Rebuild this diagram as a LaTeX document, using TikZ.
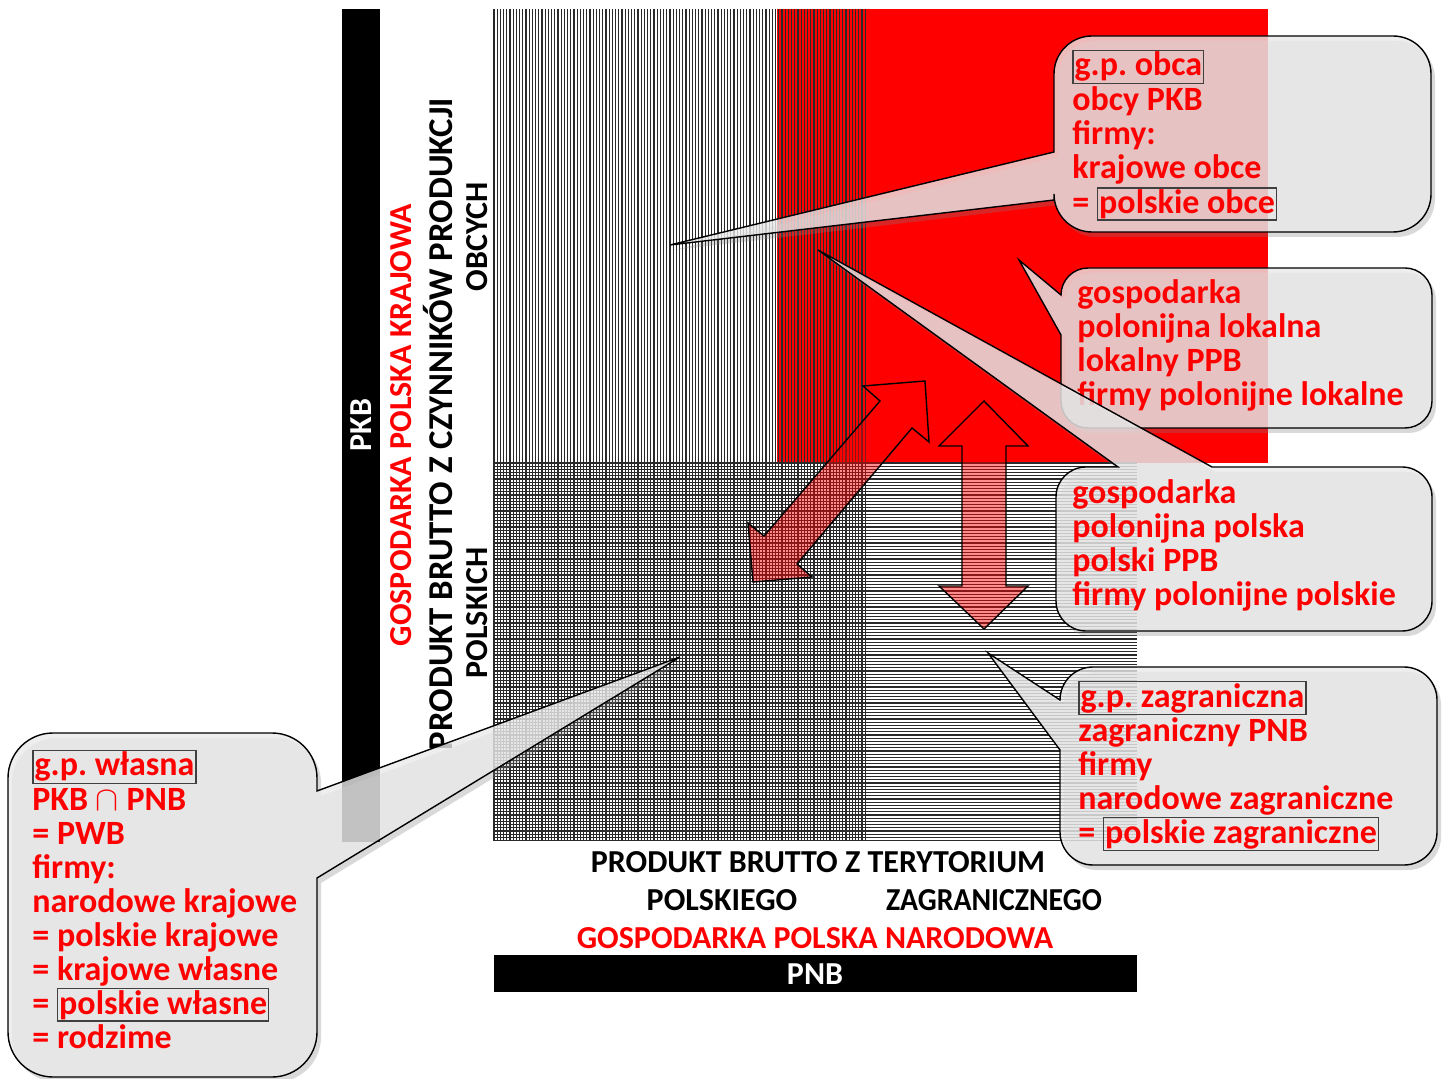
\documentclass[tikz,border=0pt]{standalone}
\usepackage{fontspec}
\setmainfont{Carlito}
\usetikzlibrary{shadows}
\frenchspacing
\definecolor{callgray}{HTML}{EAEAEA}
\definecolor{hatchc}{HTML}{2A2A2A}
\definecolor{framec}{HTML}{404040}
\newcommand{\framedword}[1]{{\color{framec}\setlength{\fboxsep}{0.4pt}\setlength{\fboxrule}{0.7pt}\smash{\fbox{\color{red}#1}}}}
\tikzset{
  hatch/.style={draw=hatchc, line width=0.55pt},
  callout/.style={draw=black, line width=0.7pt, fill=callgray, fill opacity=0.8,
    drop shadow={shadow xshift=2pt, shadow yshift=-2.5pt, opacity=0.3}},
  ctext/.style={font=\bfseries\fontsize{17}{17}\selectfont, text=red, anchor=base west, inner sep=0pt},
  axistext/.style={font=\bfseries\fontsize{16}{18}\selectfont, inner sep=0pt},
  bigarrow/.style={draw=black, line width=0.7pt, fill=red, fill opacity=0.45},
}
\begin{document}
\begin{tikzpicture}[x=0.5pt,y=-0.5pt]
\useasboundingbox (0,0) rectangle (1446,1079);
% red area
\fill[red] (777,9) rectangle (1268,463);
% hatching
\foreach \x in {494,497.2,...,868} \draw[hatch] (\x,9) -- (\x,841);
\foreach \y in {463,466.2,...,841} \draw[hatch] (494,\y) -- (1137,\y);
% bars
\fill[black] (342,9) rectangle (380,842);
\fill[black] (494,955) rectangle (1137,992);
% axis texts
\node[axistext, rotate=90, text=white] (pkb) at (361,425) {PKB};
\node[axistext, rotate=90, text=red] (gpk) at (401,425) {GOSPODARKA POLSKA KRAJOWA};
\node[axistext, rotate=90, font=\bfseries\fontsize{17.4}{19}\selectfont] (pbc) at (438,424) {PRODUKT BRUTTO Z CZYNNIKÓW PRODUKCJI};
\node[axistext, rotate=90] (obc) at (477,237) {OBCYCH};
\node[axistext, rotate=90] (pol) at (477,613) {POLSKICH};
\node[axistext] (pbt) at (818,862) {PRODUKT BRUTTO Z TERYTORIUM};
\node[axistext] (pgo) at (722,900) {POLSKIEGO};
\node[axistext, xscale=0.93] (zag) at (994,900) {ZAGRANICZNEGO};
\node[axistext, text=red] (gpn) at (815,938) {GOSPODARKA POLSKA NARODOWA};
\node[axistext, text=white] (pnb) at (815,974) {PNB};
% big arrows
\draw[bigarrow] (925,381) -- (929,442) -- (912,428) -- (797,564) -- (812,577) -- (753,582) -- (748,523) -- (764,536) -- (880,401) -- (863,386) -- cycle;
\draw[bigarrow] (984,401) -- (1028,446) -- (1006,446) -- (1006,586) -- (1028,586) -- (984,629) -- (939,586) -- (962,586) -- (962,446) -- (939,446) -- cycle;
% callout 1
\path[callout] (1092,36) -- (1393,36) arc[start angle=270,end angle=360,radius=38] -- (1431,194) arc[start angle=0,end angle=90,radius=38] -- (1092,232) arc[start angle=90,end angle=180,radius=38] -- (1054,200) -- (670,245) -- (1054,152) -- (1054,74) arc[start angle=180,end angle=270,radius=38] -- cycle;
\foreach \t [count=\i from 0] in {{\framedword{g.p. obca}},obcy PKB,firmy:,krajowe obce,{= \framedword{polskie obce}}}
  \node[ctext] (ca\i) at (1072,76+34.3*\i) {\t};
% callout 2
\path[callout] (1088,268) -- (1405,268) arc[start angle=270,end angle=360,radius=27] -- (1432,401) arc[start angle=0,end angle=90,radius=27] -- (1088,428) arc[start angle=90,end angle=180,radius=27] -- (1061,335) -- (1019,260) -- (1061,295) arc[start angle=180,end angle=270,radius=27] -- cycle;
\foreach \t [count=\i from 0] in {gospodarka,polonijna lokalna,lokalny PPB,firmy polonijne lokalne}
  \node[ctext] (cb\i) at (1077,304+33.7*\i) {\t};
% callout 3
\path[callout] (1086,467) -- (1118,467) -- (818,250) -- (1212,467) -- (1402,467) arc[start angle=270,end angle=360,radius=30] -- (1432,601) arc[start angle=0,end angle=90,radius=30] -- (1086,631) arc[start angle=90,end angle=180,radius=30] -- (1056,497) arc[start angle=180,end angle=270,radius=30] -- cycle;
\foreach \t [count=\i from 0] in {gospodarka,polonijna polska,polski PPB,firmy polonijne polskie}
  \node[ctext] (cc\i) at (1072,504+33.7*\i) {\t};
% callout 4
\path[callout] (1093,667) -- (1404,667) arc[start angle=270,end angle=360,radius=33] -- (1437,832) arc[start angle=0,end angle=90,radius=33] -- (1093,865) arc[start angle=90,end angle=180,radius=33] -- (1060,750) -- (988,653) -- (1060,700) arc[start angle=180,end angle=270,radius=33] -- cycle;
\foreach \t [count=\i from 0] in {{\framedword{g.p. zagraniczna}},zagraniczny PNB,firmy,narodowe zagraniczne,{= \framedword{polskie zagraniczne}}}
  \node[ctext] (cd\i) at (1078,707+34*\i) {\t};
% callout 5
\path[callout] (53,733) -- (272,733) arc[start angle=270,end angle=360,radius=45] -- (317,791) -- (680,657) -- (317,878) -- (317,1032) arc[start angle=0,end angle=90,radius=45] -- (53,1077) arc[start angle=90,end angle=180,radius=45] -- (8,778) arc[start angle=180,end angle=270,radius=45] -- cycle;
\foreach \t [count=\i from 0] in {{\framedword{g.p. własna}},{PKB $\cap$ PNB},= PWB,firmy:,narodowe krajowe,= polskie krajowe,= krajowe własne,{= \framedword{polskie własne}},= rodzime}
  \node[ctext] (ce\i) at (32,776+34*\i) {\t};
\end{tikzpicture}
\end{document}
